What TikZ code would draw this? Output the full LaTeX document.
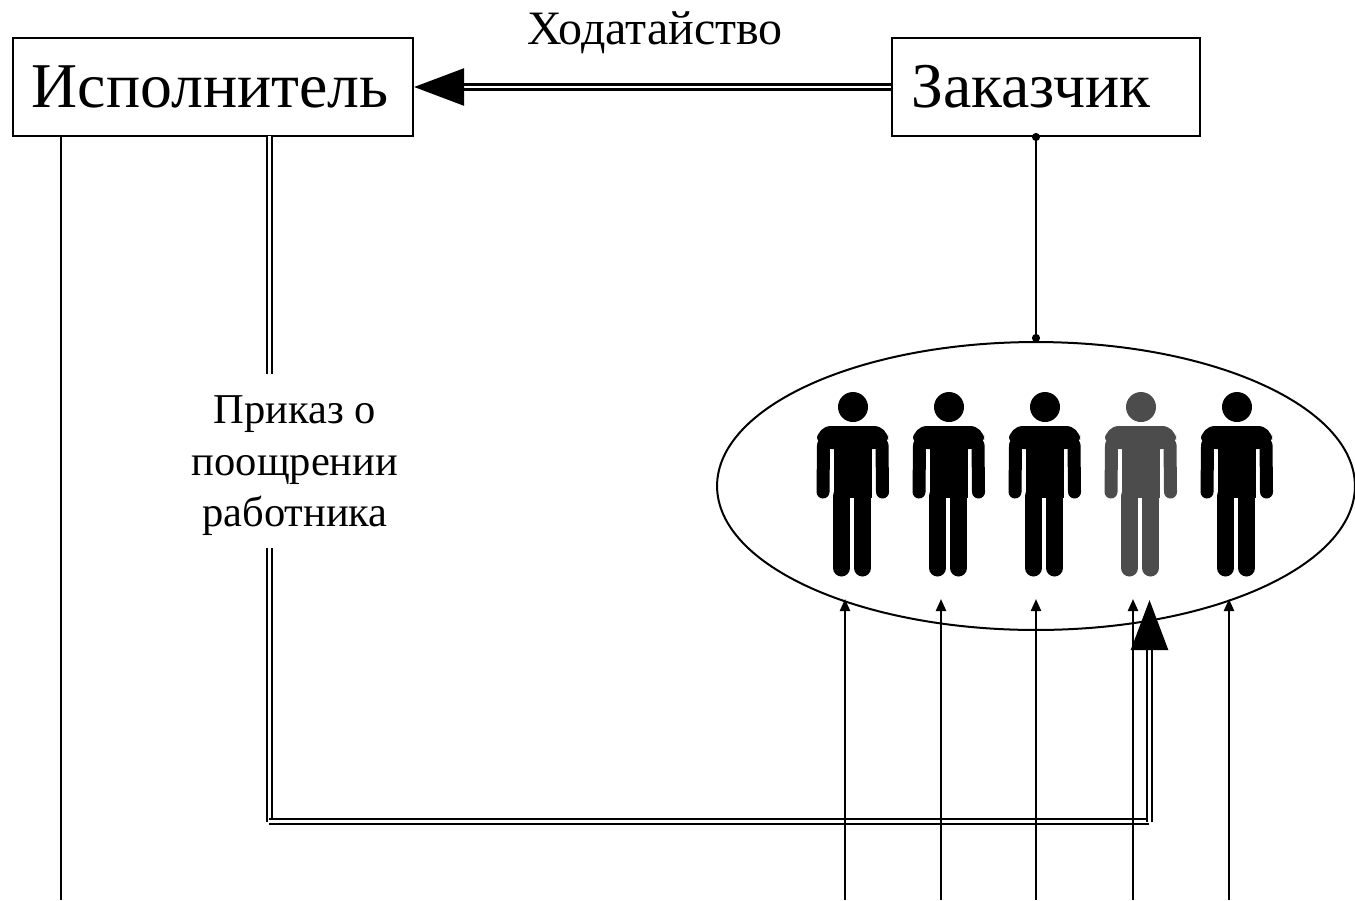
\documentclass[tikz,border=0pt]{standalone}
\usepackage{fontspec}
\setmainfont{Liberation Serif}
\usetikzlibrary{shapes.geometric, arrows.meta, positioning}

\tikzset{
    box/.style={draw, line width=0.045cm, inner sep=0pt, minimum height=1.96cm, font=\fontsize{36.3}{40}\selectfont},
    label/.style={align=center, inner sep=0pt, font=\fontsize{24.2}{29.3}\selectfont},
    thinline/.style={line width=0.045cm},
    orderline/.style={double, line width=0.05cm, double distance=0.045cm},
    bigtip/.style={-{Triangle[length=1cm, width=0.74cm]}},
    smalltip/.style={-{Triangle[length=0.24cm, width=0.2cm]}}
}

\begin{document}
\begin{tikzpicture}[x=0.02cm, y=-0.02cm]
\useasboundingbox (0,0) rectangle (1355,900);

\node[box, minimum width=8cm] (customer) at (213,87) {\hbox{Исполнитель\kern0.12cm}};
\node[box, minimum width=6.16cm] (client) at (1046,87) {\hbox{Заказчик\kern0.6cm}};
\node[label, font=\fontsize{27.3}{32}\selectfont] (request) at (655,33) {Ходатайство};
\node[label] (order) at (295,466) {Приказ о\\поощрении\\работника};
\node[draw, line width=0.04cm, ellipse, inner sep=0pt, minimum width=12.76cm, minimum height=5.76cm] (staff) at (1036,486) {};

\foreach \px/\tone in {853/black, 949/black, 1045/black, 1141/black!70, 1237/black} {
    \begin{scope}[shift={(\px,0)}, tone/.style={\tone}]
    \fill[tone] (0,407) circle (15);
    \fill[tone, rounded corners=0.28cm] (-36,449) -- (-36,426) -- (35,426) -- (35,449) -- cycle;
    \fill[tone] (-19,440) rectangle (19,498);
    \draw[tone, line width=0.26cm, line cap=round] (-29.5,445) -- (-30,492);
    \draw[tone, line width=0.26cm, line cap=round] (29,445) -- (29.5,492);
    \draw[tone, line width=0.34cm, line cap=round] (-11.5,496) -- (-11.5,568);
    \draw[tone, line width=0.34cm, line cap=round] (9.5,496) -- (9.5,568);
    \end{scope}
}

\coordinate (ordertop) at (269.5,136);
\coordinate (orderup) at (269.5,374);
\coordinate (orderdown) at (269.5,548);
\coordinate (ordercorner) at (269.5,822);
\coordinate (orderleft) at (269,821.5);
\coordinate (orderright) at (1149,821.5);
\coordinate (orderturn) at (1149.5,822);
\coordinate (ordertip) at (1149.5,600);
\coordinate (leftbottom) at (61,900);
\coordinate (lefttop) at (61,136);
\coordinate (clientdot) at (1036,133);
\coordinate (staffdot) at (1036,342);

\draw[orderline, bigtip] (client.west) -- (customer.east);
\draw[orderline] (ordertop) -- (orderup);
\draw[orderline] (orderdown) -- (ordercorner);
\draw[orderline] (orderleft) -- (orderright);
\draw[orderline, bigtip] (orderturn) -- (ordertip);
\draw[thinline] (lefttop) -- (leftbottom);
\draw[thinline, {Circle[length=0.16cm]}-{Circle[length=0.16cm]}] (clientdot) -- (staffdot);

\foreach \i/\ax in {1/845, 2/941, 3/1036, 4/1133, 5/1229} {
    \coordinate (pay\i) at (\ax,900);
    \coordinate (got\i) at (\ax,599);
    \draw[thinline, smalltip] (pay\i) -- (got\i);
}
\end{tikzpicture}
\end{document}
